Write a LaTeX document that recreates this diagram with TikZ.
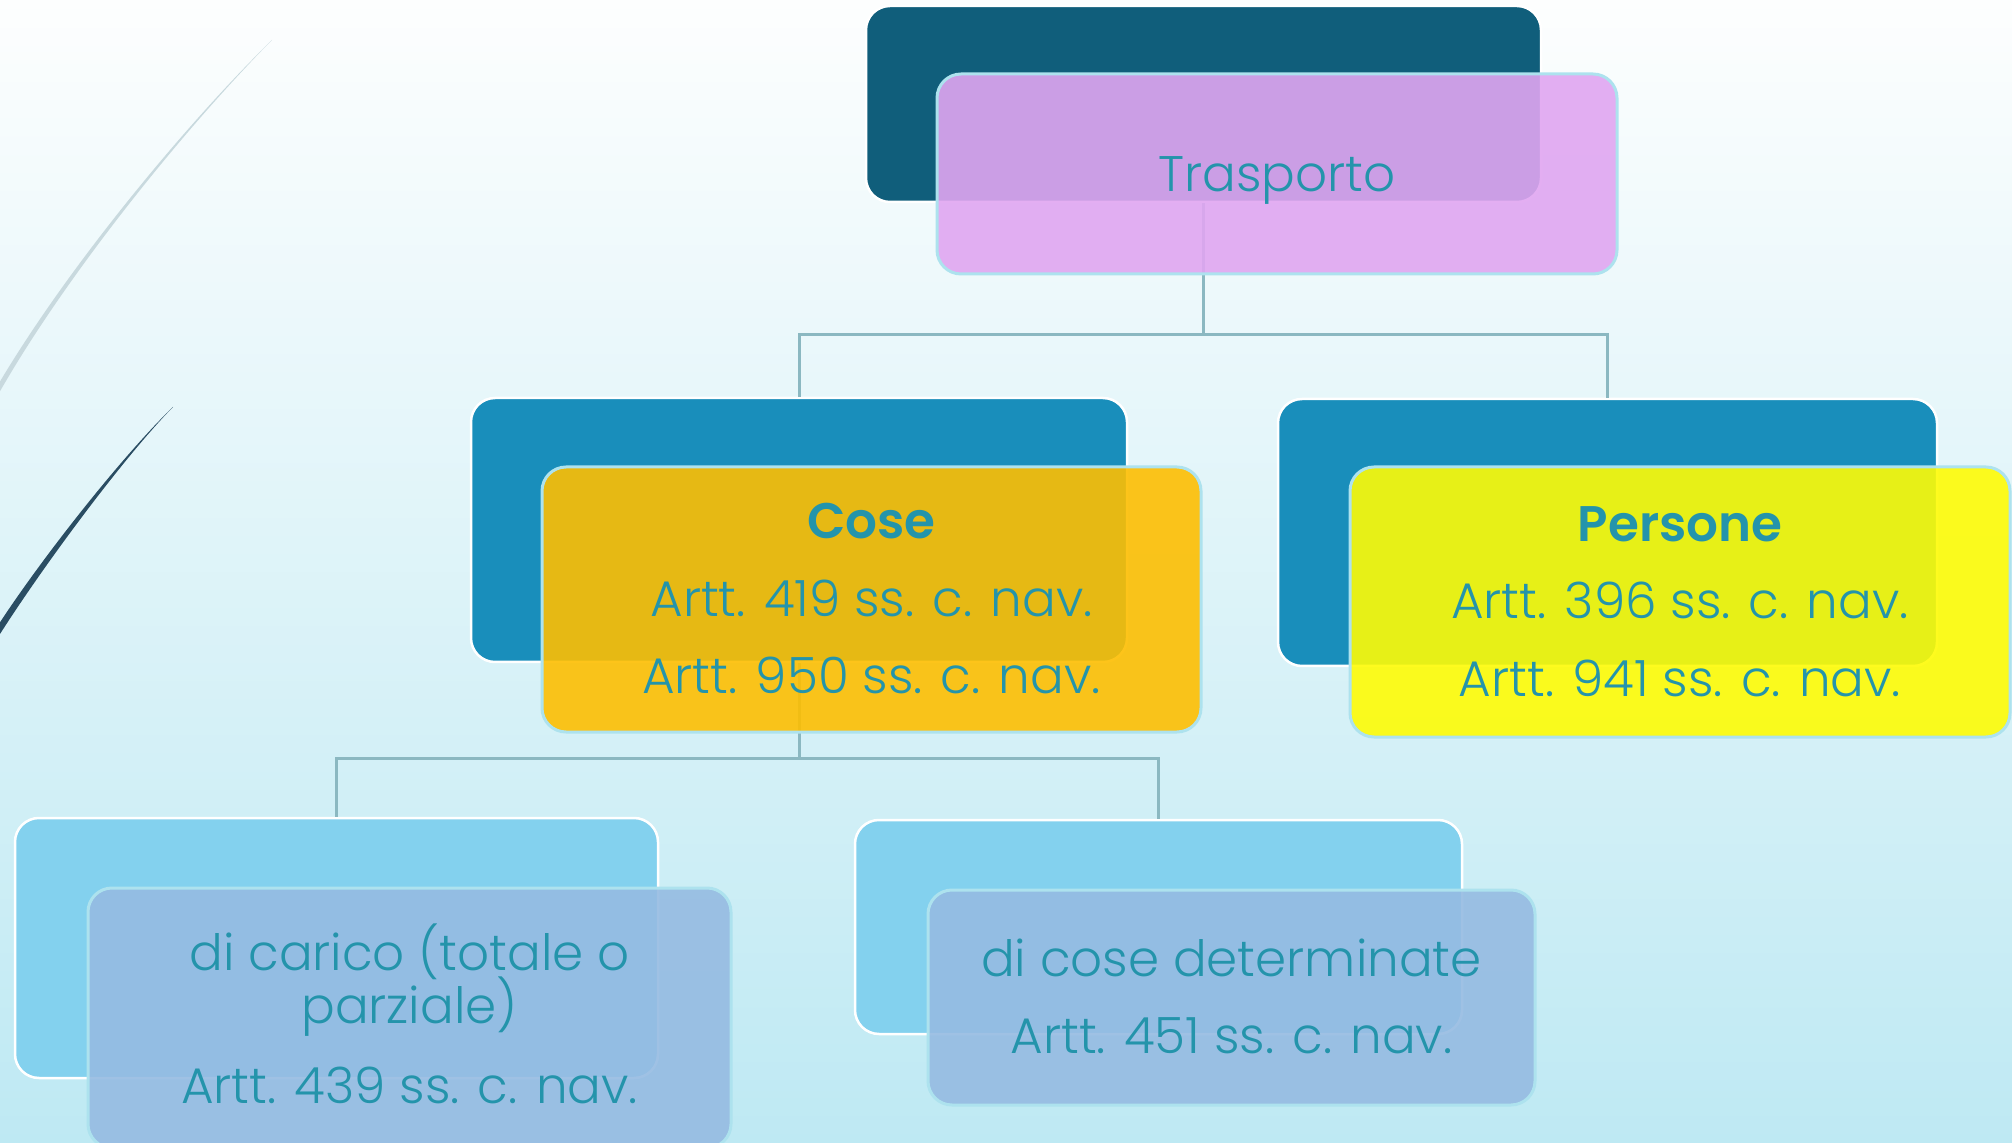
\documentclass[tikz,border=0pt]{standalone}
\usepackage{fontspec}
\setmainfont{Poppins}[UprightFont={* Light}]
\definecolor{bgtop}{RGB}{253,254,254}
\definecolor{bgmid}{RGB}{228,244,249}
\definecolor{bgbot}{RGB}{190,233,243}
\definecolor{arclight}{RGB}{200,217,222}
\definecolor{arcdark}{RGB}{42,77,99}
\definecolor{connc}{RGB}{139,184,193}
\definecolor{topback}{RGB}{16,94,123}
\definecolor{midback}{RGB}{25,142,187}
\definecolor{lowback}{RGB}{131,209,238}
\definecolor{pinkf}{RGB}{224,166,241}
\definecolor{orangef}{RGB}{253,190,2}
\definecolor{yellowf}{RGB}{254,251,6}
\definecolor{bluef}{RGB}{149,187,226}
\definecolor{frontborder}{RGB}{173,226,238}
\definecolor{textc}{RGB}{36,148,171}
\begin{document}
\begin{tikzpicture}[x=0.5pt,y=-0.5pt,
  backbox/.style={rectangle, rounded corners=12pt, draw=white, line width=1.25pt, inner sep=0pt},
  frontbox/.style={rectangle, rounded corners=12pt, draw=frontborder, line width=1.5pt, fill opacity=0.9, inner sep=0pt},
  conn/.style={draw=connc, line width=1.5pt},
  txt/.style={text=textc, anchor=base, inner sep=0pt, font=\fontsize{25}{30}\selectfont},
  boldtxt/.style={text=textc, anchor=base, inner sep=0pt, font=\fontsize{25}{30}\selectfont\bfseries}]
\useasboundingbox (0,0) rectangle (2012,1143);
\shade[top color=bgtop, middle color=bgmid, bottom color=bgbot] (0,0) rectangle (2012,1143);
% decorative arcs
\fill[arclight] (272,40) .. controls (185,125) and (65,270) .. (-5,390) -- (-1,393) .. controls (68,272) and (187,126) .. (272,40) -- cycle;
\fill[arcdark] (173,407) .. controls (123,455) and (40,560) .. (-5,630) -- (0,634) .. controls (46,562) and (125,456) .. (173,407) -- cycle;
% back boxes
\node[backbox, fill=topback, minimum width=337.5pt, minimum height=98pt] (b0) at (1203.5,104) {};
\node[backbox, fill=midback, minimum width=328pt, minimum height=132pt] (b1) at (799,530) {};
\node[backbox, fill=midback, minimum width=329.5pt, minimum height=133.5pt] (b2) at (1607.5,532.5) {};
\node[backbox, fill=lowback, minimum width=321.5pt, minimum height=130pt] (b3) at (336.5,948) {};
\node[backbox, fill=lowback, minimum width=303.5pt, minimum height=107pt] (b4) at (1158.5,927) {};
% connectors
\coordinate (j0) at (1203.5,335);
\coordinate (j1) at (799,758);
\draw[conn] (b0.south) -- (j0) -| (b1.north);
\draw[conn] (j0) -| (b2.north);
\draw[conn] (b1.south) -- (j1) -| (b3.north);
\draw[conn] (j1) -| (b4.north);
% front boxes
\node[frontbox, fill=pinkf, minimum width=340pt, minimum height=100pt] (f0) at (1277,174) {};
\node[frontbox, fill=orangef, minimum width=329.5pt, minimum height=132.5pt] (f1) at (871.5,599.5) {};
\node[frontbox, fill=yellowf, minimum width=330pt, minimum height=135pt] (f2) at (1680,602) {};
\node[frontbox, fill=bluef, minimum width=321.5pt, minimum height=130pt] (f3) at (409.5,1018) {};
\node[frontbox, fill=bluef, minimum width=303.5pt, minimum height=107.5pt] (f4) at (1231.5,997.5) {};
% texts
\node[txt] (t0) at (1277,192) {Trasporto};
\node[boldtxt] (t1a) at (871.5,539) {Cose};
\node[txt] (t1b) at (871.5,617) {Artt. 419 ss. c. nav.};
\node[txt] (t1c) at (871.5,693) {Artt. 950 ss. c. nav.};
\node[boldtxt] (t2a) at (1680,542) {Persone};
\node[txt] (t2b) at (1680,619) {Artt. 396 ss. c. nav.};
\node[txt] (t2c) at (1680,697) {Artt. 941 ss. c. nav.};
\node[txt] (t3a) at (409.5,970) {di carico (totale o};
\node[txt] (t3b) at (409.5,1023) {parziale)};
\node[txt] (t3c) at (409.5,1103) {Artt. 439 ss. c. nav.};
\node[txt] (t4a) at (1231.5,976) {di cose determinate};
\node[txt] (t4b) at (1231.5,1053) {Artt. 451 ss. c. nav.};
\end{tikzpicture}
\end{document}
